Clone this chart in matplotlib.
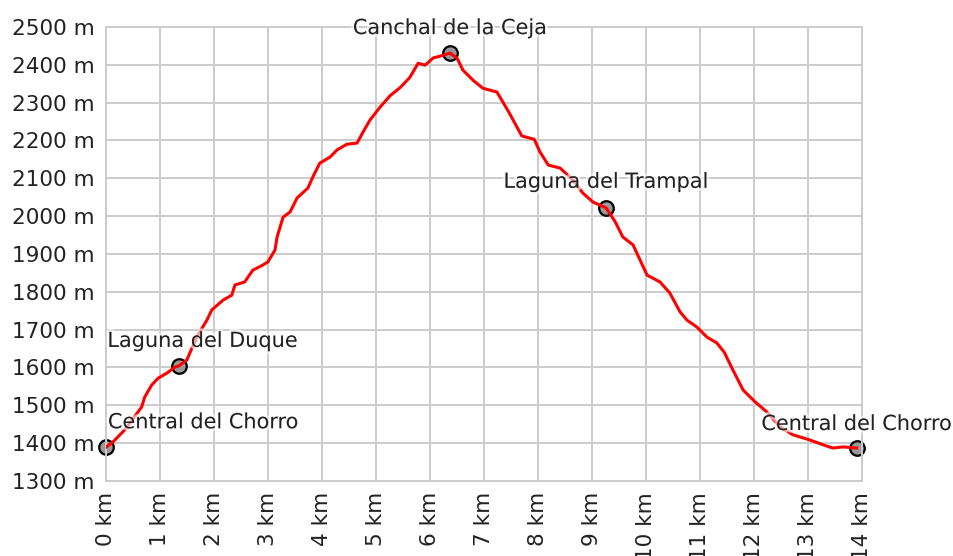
import numpy as np
import matplotlib
matplotlib.use('Agg')
import matplotlib.pyplot as plt
import matplotlib.patheffects as pe
from matplotlib.ticker import MultipleLocator, FuncFormatter

# perfil de altitud (km, m)
dist_km = [0.0, 0.13, 0.35, 0.66, 0.72, 0.85, 0.97, 1.13, 1.28, 1.35, 1.5, 1.68,
           1.87, 1.96, 2.17, 2.33, 2.39, 2.57, 2.72, 2.91, 3.0, 3.13, 3.17, 3.28,
           3.41, 3.54, 3.74, 3.83, 3.96, 4.15, 4.28, 4.46, 4.65, 4.76, 4.89, 5.07,
           5.26, 5.45, 5.63, 5.78, 5.91, 6.06, 6.24, 6.37, 6.5, 6.61, 6.8, 6.98,
           7.24, 7.46, 7.7, 7.93, 8.04, 8.19, 8.41, 8.65, 8.83, 9.02, 9.26, 9.43,
           9.57, 9.76, 9.89, 10.02, 10.26, 10.44, 10.63, 10.76, 10.94, 11.13, 11.31,
           11.45, 11.61, 11.8, 12.02, 12.24, 12.48, 12.72, 13.04, 13.35, 13.46,
           13.65, 13.9]
alt_m = [1389, 1403, 1435, 1495, 1522, 1554, 1572, 1585, 1601, 1604, 1620, 1680,
         1725, 1752, 1778, 1791, 1818, 1826, 1857, 1871, 1879, 1910, 1945, 1997,
         2011, 2048, 2074, 2103, 2140, 2156, 2175, 2190, 2193, 2222, 2254, 2287,
         2318, 2340, 2367, 2404, 2399, 2418, 2425, 2431, 2418, 2386, 2359, 2338,
         2328, 2275, 2212, 2203, 2169, 2135, 2127, 2095, 2061, 2037, 2022, 1985,
         1945, 1924, 1884, 1844, 1826, 1797, 1747, 1725, 1707, 1680, 1665,
         1640, 1593, 1540, 1509, 1482, 1443, 1422, 1408, 1392, 1387,
         1390, 1387]

# puntos de paso
pts_nombre = ['Central del Chorro', 'Laguna del Duque', 'Canchal de la Ceja',
              'Laguna del Trampal', 'Central del Chorro']
pts_km = [0.0, 1.36, 6.37, 9.26, 13.9]
pts_m = [1389, 1604, 2431, 2022, 1387]

plt.rcParams['font.family'] = 'DejaVu Sans'

fig = plt.figure(figsize=(9.54, 5.56), dpi=100)
ax = fig.add_axes([0.111, 0.135, 0.7926, 0.8165])

ax.plot(dist_km, alt_m, color='#ff0000', linewidth=2.2, zorder=3)
ax.scatter(pts_km, pts_m, s=110, facecolor='#999999', edgecolor='black',
           linewidth=1.6, zorder=2, clip_on=False)

# desplazamientos de las etiquetas en pixeles
offs = [(2, 25), (-72, 25), (0, 25), (0, 26), (0, 24)]
alin = ['left', 'left', 'center', 'center', 'center']
for nombre, x, y, o, h in zip(pts_nombre, pts_km, pts_m, offs, alin):
    ax.annotate(nombre, (x, y), xytext=o, textcoords='offset pixels',
                ha=h, va='center', fontsize=15, color='#222222', zorder=4,
                path_effects=[pe.withStroke(linewidth=4, foreground='white', alpha=0.6)])

ax.set_xlim(0, 14)
ax.set_ylim(1300, 2500)
ax.xaxis.set_major_locator(MultipleLocator(1))
ax.yaxis.set_major_locator(MultipleLocator(100))
ax.xaxis.set_major_formatter(FuncFormatter(lambda v, p: f'{v:.0f} km'))
ax.yaxis.set_major_formatter(FuncFormatter(lambda v, p: f'{v:.0f} m'))
ax.tick_params(axis='both', length=0, labelsize=15.5, labelcolor='#222222', pad=8)
ax.tick_params(axis='x', labelrotation=90)
ax.grid(True, color='#cccccc', linewidth=1.4)
ax.set_axisbelow(True)
for s in ax.spines.values():
    s.set_color('#cccccc')
    s.set_linewidth(1.4)

plt.savefig('out.png', dpi=100)
